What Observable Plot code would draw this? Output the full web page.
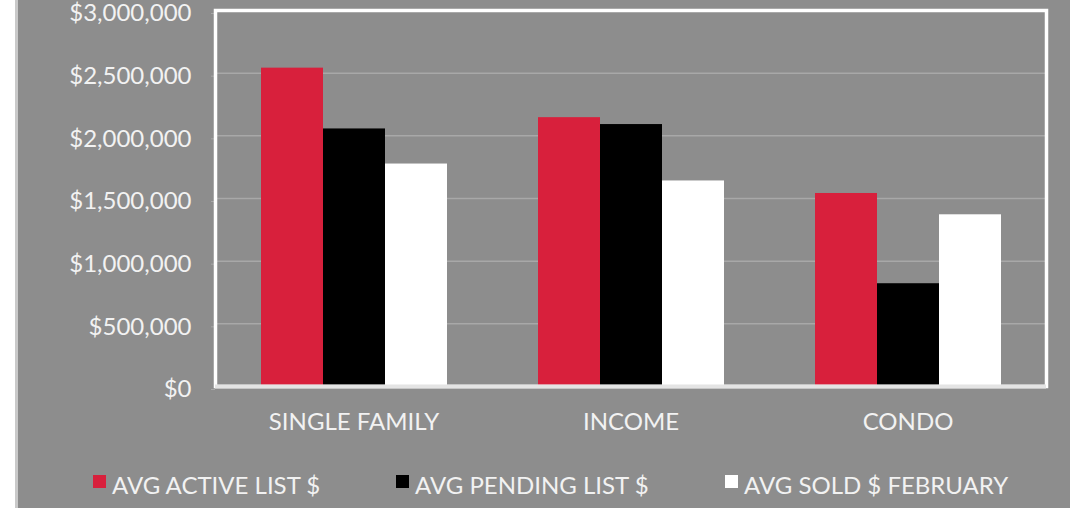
<!DOCTYPE html>
<html>
<head>
<meta charset="utf-8">
<script src="https://cdn.jsdelivr.net/npm/d3@7"></script>
<script src="https://cdn.jsdelivr.net/npm/@observablehq/plot@0.6"></script>
<style>
  html, body { margin: 0; padding: 0; background: #ffffff; }
  #wrap {
    position: relative; width: 1070px; height: 508px; overflow: hidden;
    background: linear-gradient(to right, #ffffff 0 15px, #c9c9c9 15px 18px, #8d8d8d 18px);
    font-family: Lato, "Open Sans", sans-serif;
  }
  #chart { position: absolute; left: 0; top: 0; }
  #legend {
    position: absolute; left: 0; top: 473px; display: flex; padding-left: 93px;
    font-size: 24px; line-height: 24px; color: #f2f2f2; white-space: nowrap;
  }
  .item { display: flex; align-items: flex-start; }
  .sw { width: 13px; height: 13px; margin-top: 2px; margin-right: 6px; flex: none; }
</style>
</head>
<body>
<div id="wrap">
  <div id="chart"></div>
  <div id="legend"></div>
</div>
<script>
// ---- data ----
const categories = ["SINGLE FAMILY", "INCOME", "CONDO"];
const series = ["AVG ACTIVE LIST $", "AVG PENDING LIST $", "AVG SOLD $ FEBRUARY"];
const avgActiveList = [2540000, 2145000, 1540000];
const avgPendingList = [2055000, 2090000, 820000];
const avgSoldFebruary = [1775000, 1640000, 1370000];
const yTicks = [0, 500000, 1000000, 1500000, 2000000, 2500000, 3000000];
const seriesColors = ["#d8203c", "#000000", "#ffffff"];

const seriesValues = [avgActiveList, avgPendingList, avgSoldFebruary];
const data = [];
categories.forEach((c, i) => {
  series.forEach((s, j) => data.push({category: c, series: s, value: seriesValues[j][i]}));
});

const fmt = d3.format(",");

const chart = Plot.plot({
  width: 1070,
  height: 445,
  marginLeft: 214,
  marginRight: 24,
  marginTop: 10,
  marginBottom: 59,
  style: {background: "transparent", fontFamily: "Lato, 'Open Sans', sans-serif", fontSize: "24px", color: "#f2f2f2", overflow: "visible"},
  fx: {domain: categories, padding: 0, label: null},
  x: {domain: series, paddingInner: 0, paddingOuter: 0.73, axis: null},
  y: {domain: [0, 3000000], label: null},
  color: {domain: series, range: seriesColors},
  marks: [
    Plot.gridY(yTicks, {stroke: "#a8a8a8", strokeOpacity: 1, strokeWidth: 1.5}),
    Plot.axisY(yTicks, {tickFormat: d => "$" + fmt(d), tickSize: 4, tickPadding: 20, stroke: "#a8a8a8", fill: "#f2f2f2", label: null, dy: 3}),
    Plot.axisFx({anchor: "bottom", tickSize: 0, tickPadding: 26, label: null, fill: "#f2f2f2"}),
    Plot.barY(data, {fx: "category", x: "series", y: "value", fill: "series"}),
    Plot.frame({facet: "super", stroke: "#ffffff", strokeWidth: 3.5}),
    Plot.ruleY([0], {stroke: "#e4e4e4", strokeWidth: 4})
  ]
});
document.getElementById("chart").appendChild(chart);

// legend
const widths = [303, 329, null];
const legend = document.getElementById("legend");
series.forEach((s, i) => {
  const item = document.createElement("div");
  item.className = "item";
  if (widths[i]) item.style.width = widths[i] + "px";
  const sw = document.createElement("span");
  sw.className = "sw";
  sw.style.background = seriesColors[i];
  const t = document.createElement("span");
  t.textContent = s;
  item.appendChild(sw);
  item.appendChild(t);
  legend.appendChild(item);
});
</script>
</body>
</html>
